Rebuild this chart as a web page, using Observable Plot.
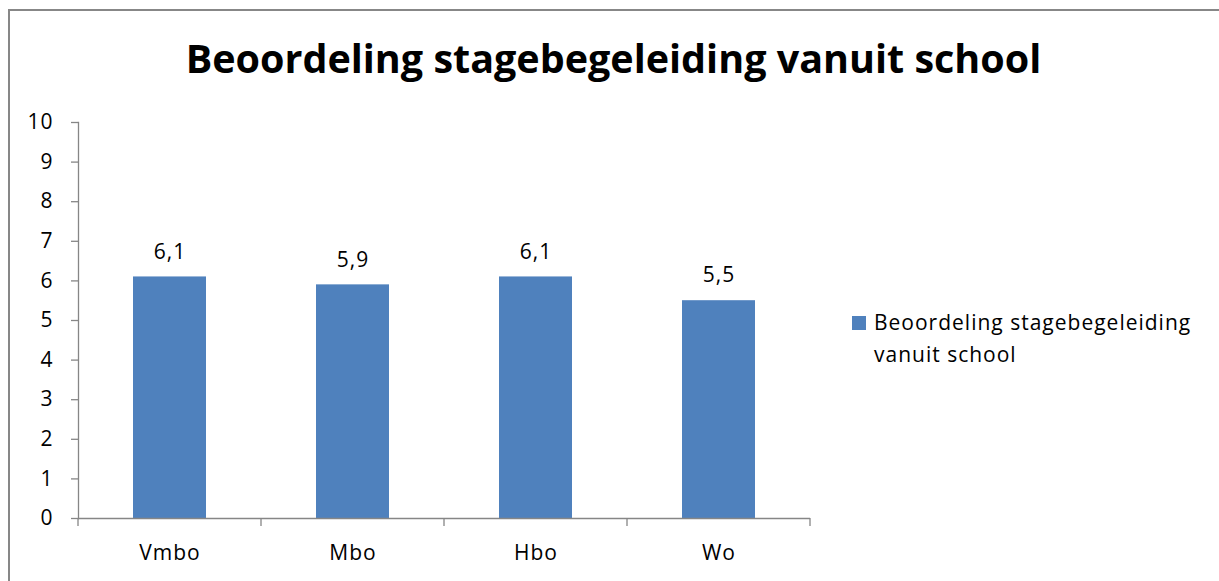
<!DOCTYPE html>
<html>
<head>
<meta charset="utf-8">
<script src="https://cdn.jsdelivr.net/npm/d3@7"></script>
<script src="https://cdn.jsdelivr.net/npm/@observablehq/plot@0.6"></script>
<style>
  html, body { margin: 0; padding: 0; background: #fff; }
  #wrap { position: relative; width: 1219px; height: 581px; overflow: hidden; font-family: 'Open Sans', sans-serif; color: #000; }
  #border { position: absolute; left: 8px; top: 9px; width: 1300px; height: 700px; border-top: 2px solid #878787; border-left: 2px solid #878787; box-sizing: border-box; }
  #title { position: absolute; left: 0; top: 38px; width: 1227px; text-align: center; font-weight: bold; font-size: 39.5px; line-height: 40px; white-space: nowrap; }
  #chart { position: absolute; left: 0; top: 0; }
  #legend-swatch { position: absolute; left: 852px; top: 316px; width: 14px; height: 14px; background: #4F81BD; }
  #legend-text { position: absolute; left: 874px; top: 306px; width: 340px; font-size: 21px; line-height: 32px; letter-spacing: 1px; }
</style>
</head>
<body>
<div id="wrap">
  <div id="border"></div>
  <div id="chart"></div>
  <div id="title"></div>
  <div id="legend-swatch"></div>
  <div id="legend-text"></div>
</div>
<script>
const titleText = "Beoordeling stagebegeleiding vanuit school";
const seriesName = "Beoordeling stagebegeleiding vanuit school";
const categories = ["Vmbo", "Mbo", "Hbo", "Wo"];
const values = [6.1, 5.9, 6.1, 5.5];
const yTicks = [0, 1, 2, 3, 4, 5, 6, 7, 8, 9, 10];
const barColor = "#4F81BD";
const axisColor = "#868686";

const data = categories.map((c, i) => ({category: c, value: values[i]}));
const fmt = v => String(v).replace(".", ",");

document.getElementById("title").textContent = titleText;
document.getElementById("legend-text").textContent = seriesName;

const boundaryTicks = (index, scales, values, dims) => {
  const x = scales.x;
  const bw = typeof x.bandwidth === "function" ? x.bandwidth() : x.bandwidth;
  const step = x(categories[1]) - x(categories[0]);
  const gap = step - bw;
  const y0 = dims.height - dims.marginBottom;
  const edges = categories.map(c => x(c) - gap / 2)
    .concat([x(categories[categories.length - 1]) + bw + gap / 2]);
  const g = d3.create("svg:g");
  g.selectAll("line").data(edges).join("line")
    .attr("x1", d => d).attr("x2", d => d)
    .attr("y1", y0).attr("y2", y0 + 8)
    .attr("stroke", axisColor).attr("stroke-width", 1.3);
  return g.node();
};

const chart = Plot.plot({
  width: 1219,
  height: 581,
  marginLeft: 78,
  marginRight: 409,
  marginTop: 122,
  marginBottom: 63,
  x: {domain: categories, paddingInner: 0.6, paddingOuter: 0.3},
  y: {domain: [0, 10]},
  style: {fontFamily: "'Open Sans', sans-serif", fontSize: "21px", color: "#000", background: "transparent", letterSpacing: "1px"},
  marks: [
    Plot.barY(data, {x: "category", y: "value", fill: barColor}),
    Plot.frame({anchor: "left", stroke: axisColor, strokeWidth: 1.3}),
    Plot.ruleY([0], {stroke: axisColor, strokeWidth: 1.3}),
    Plot.axisY({ticks: yTicks, tickSize: 7, tickPadding: 18, stroke: axisColor, strokeWidth: 1.3, fill: "#000", label: null, fontSize: 21}),
    Plot.axisX({tickSize: 0, tickPadding: 27, fill: "#000", label: null, fontSize: 21}),
    boundaryTicks,
    Plot.text(data, {x: "category", y: "value", text: d => fmt(d.value), dy: -25, fontSize: 21, fill: "#000"})
  ]
});
document.getElementById("chart").appendChild(chart);
</script>
</body>
</html>
